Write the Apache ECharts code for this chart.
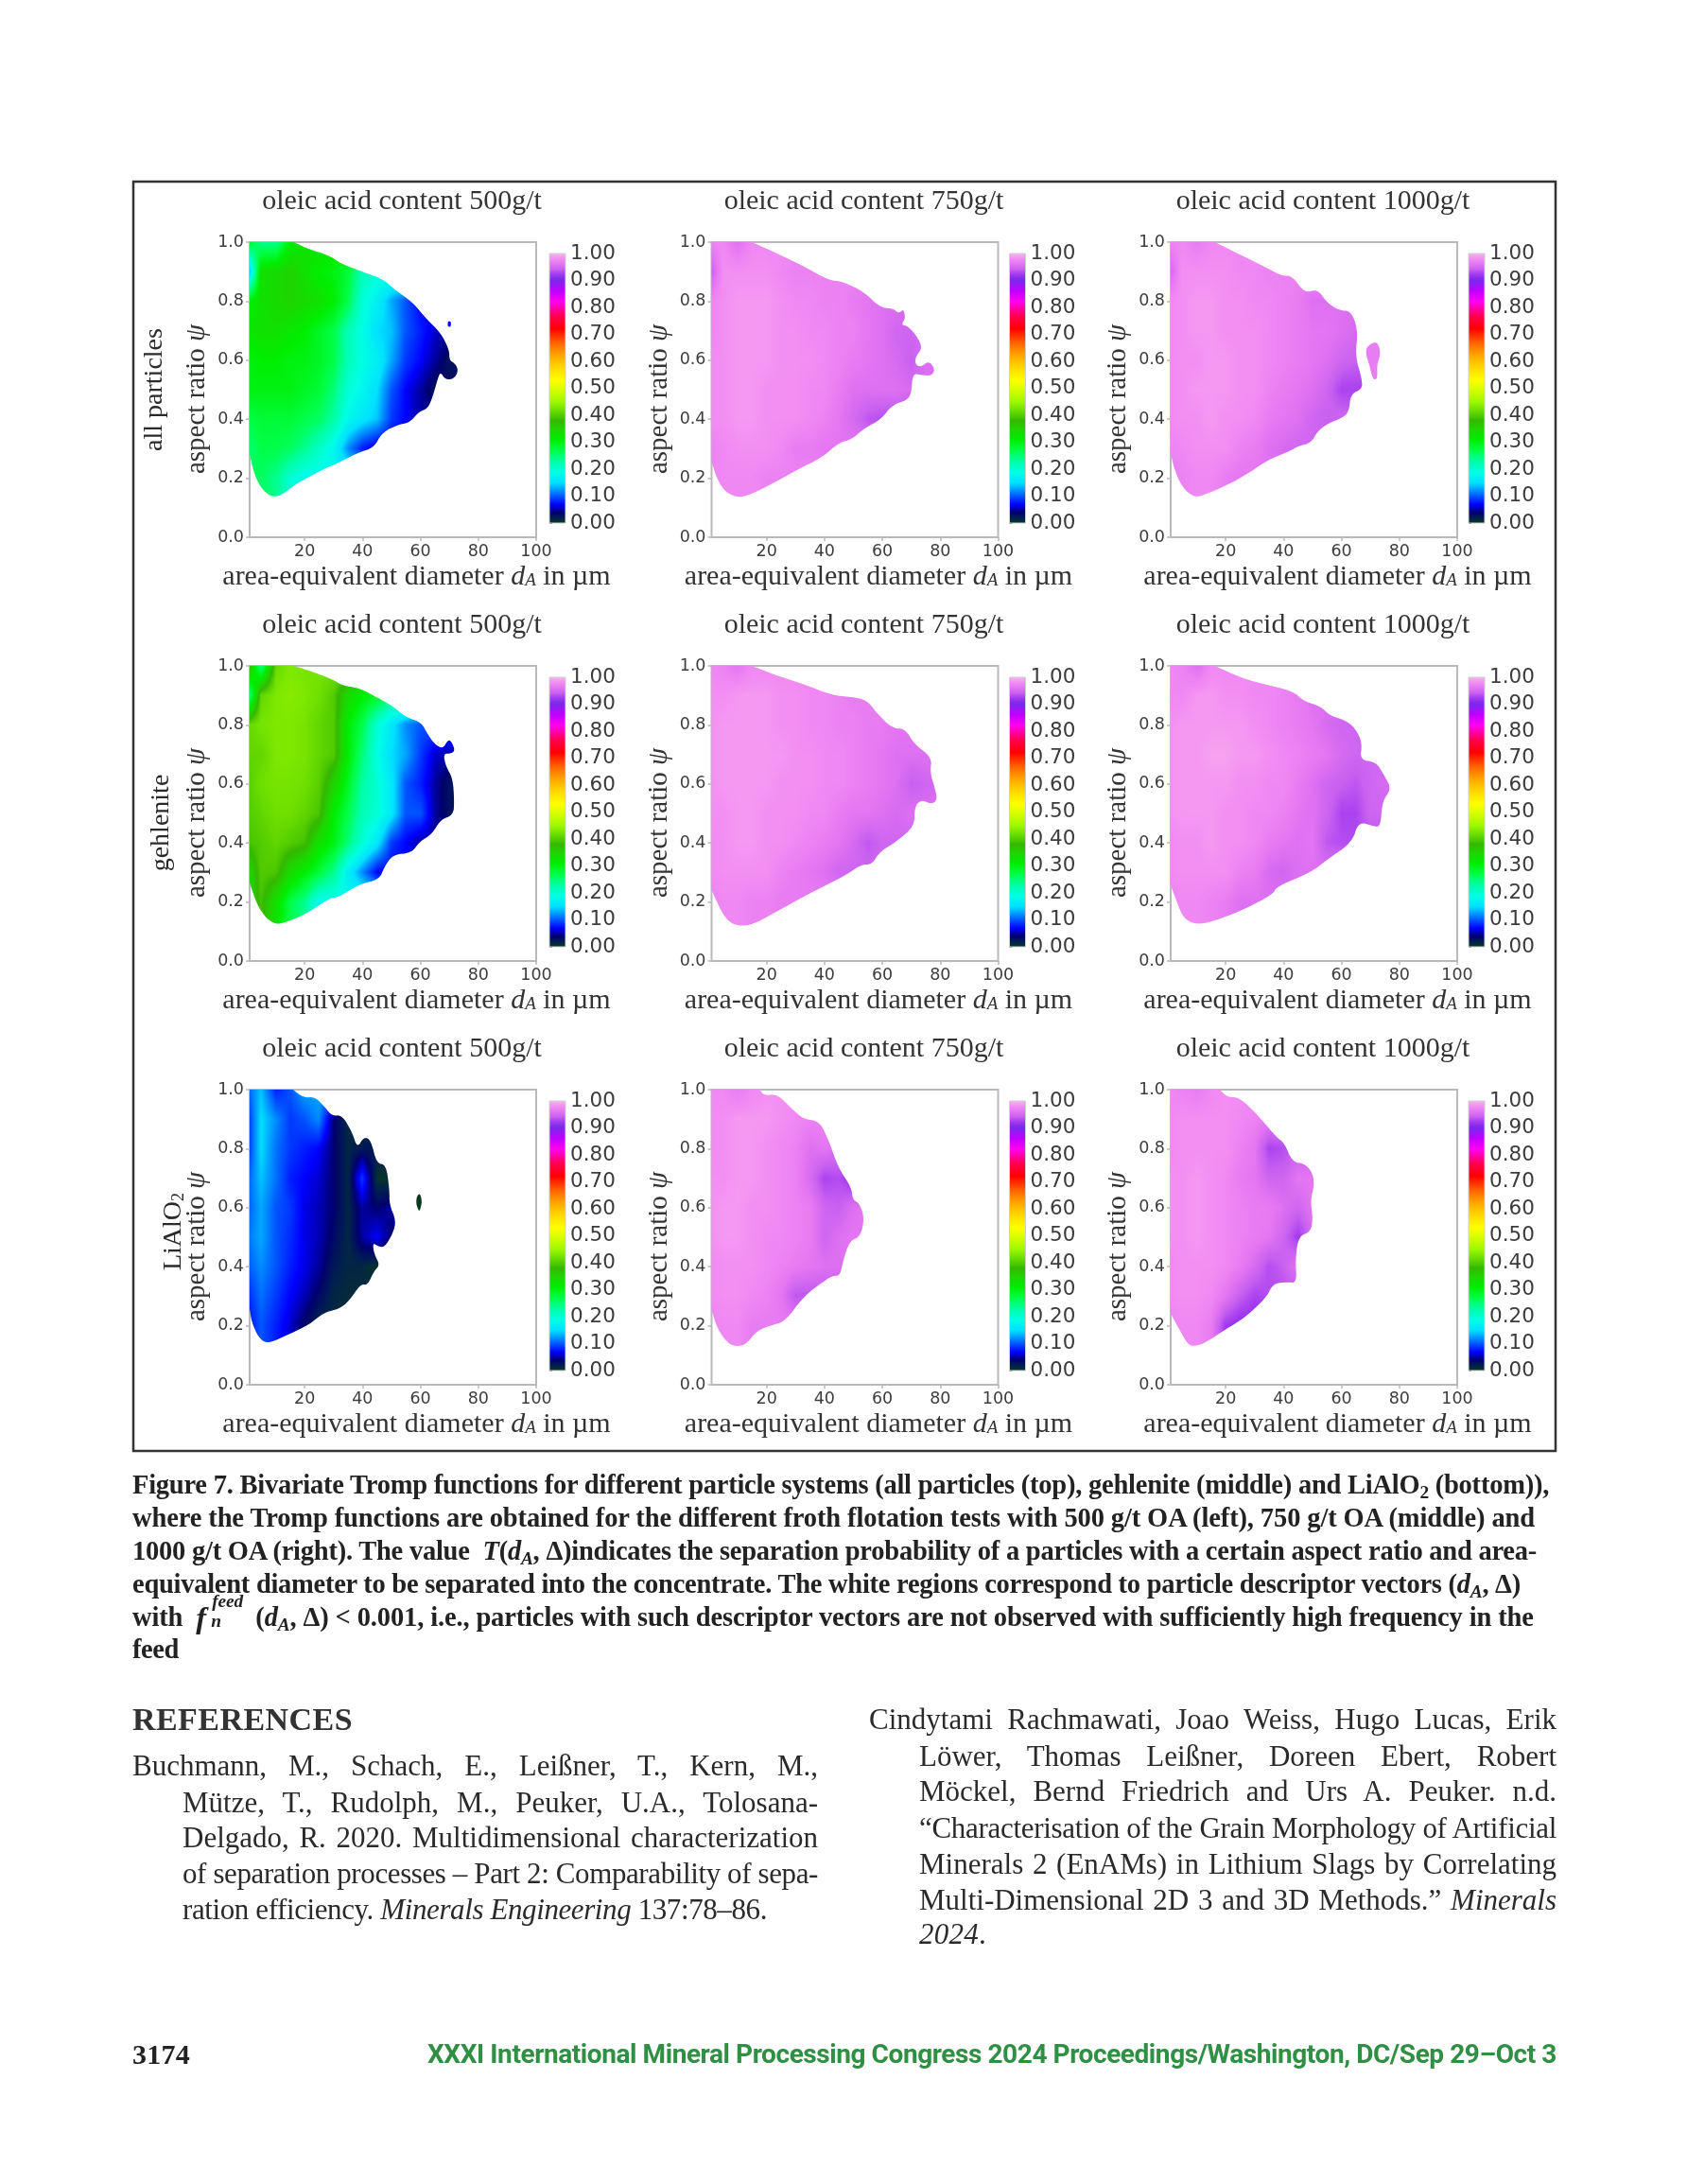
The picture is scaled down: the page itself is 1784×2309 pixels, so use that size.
<!DOCTYPE html>
<html><head><meta charset="utf-8">
<script src="https://cdn.jsdelivr.net/npm/echarts@6/dist/echarts.min.js"></script>
<style>
html,body{margin:0;padding:0;background:#fff}
#chart{position:absolute;left:0;top:0;width:1784px;height:2309px}
.ln{position:absolute;white-space:nowrap;color:#222;z-index:5}
.ln span.t{display:inline-block}
.cap{font:bold 28.5px "Liberation Serif",serif}
.ref{font:31px "Liberation Serif",serif;color:#2a2a2a}
.hd{font:bold 34px "Liberation Serif",serif;color:#333}
.pg{font:bold 30px "Liberation Serif",serif}
.ft{font:bold 28px Roboto,sans-serif;color:#2f8f42}
sub{font-size:.68em;line-height:0;vertical-align:-.28em}
.stack{display:inline-block;position:relative;width:56px;height:1em;vertical-align:baseline;font-style:italic}
.stack b{position:absolute;left:0;top:.6em;font-size:1.14em;line-height:0}
.stack u{text-decoration:none;position:absolute;left:17px;top:.14em;font-size:.68em;line-height:0}
.stack s{text-decoration:none;position:absolute;left:16px;top:1.2em;font-size:.68em;line-height:0}
</style></head><body>
<div id="chart"></div>
<script>
// ---- ticks and labels
const xTicks = [20, 40, 60, 80, 100];
const rowLabels = ['all particles', 'gehlenite', 'LiAlO2'];
const oleicDoses = [500, 750, 1000];

// ---- colour bar: value, colour
const cmapValues = [0, .02, .04, .07, .11, .15, .19, .23, .27, .31, .35, .38, .42, .45, .50, .53, .58, .62, .67, .72, .77, .82, .86, .90, .92, .94, .96, .98, .99, 1];
const cmapColors = ['#0a3a1e', '#00204e', '#00006e', '#0000ff', '#0070ff', '#00e0ff', '#00ffe4', '#00ffa4', '#00ff48', '#00ee00', '#1fd400', '#34b800', '#6fe000', '#9cf800', '#dcff00', '#ffff00', '#ffd400', '#ffa800', '#ff6000', '#ff0000', '#ff0058', '#ff00f0', '#c000ff', '#7a28ea', '#a038f0', '#c860f0', '#e476f2', '#f38ef3', '#f5a2f0', '#f6b8ec'];

// ---- read grid: rows at y = 1.0, 0.9 ... 0.2; columns at x = 0, 5, 10 ...
const gridY = [1, .9, .8, .7, .6, .5, .4, .3, .2];
const gridStepX = 5;

const tromp_all_500 = [
 [.30,.24,.24,.31,.33],
 [.09,.33,.34,.35,.33,.31,.30,.28,.22,.20],
 [.30,.33,.34,.35,.34,.33,.31,.27,.20,.17,.13,.10,.07],
 [.32,.33,.33,.32,.31,.29,.27,.22,.19,.15,.14,.10,.08,.06,.05],
 [.30,.31,.31,.30,.30,.29,.27,.22,.19,.17,.13,.09,.07,.05,.03,.03],
 [.30,.30,.30,.30,.29,.28,.25,.20,.18,.15,.10,.07,.05,.03],
 [.27,.28,.28,.28,.27,.26,.23,.18,.16,.14,.09,.07,.05],
 [.25,.27,.27,.26,.24,.21,.18,.12,.08,.06],
 [.26,.26,.24,.20,.18]];
const tromp_all_750 = [
 [.97,.975,.955,.975],
 [.93,.98,.98,.98,.98,.975,.97,.97,.97],
 [.97,.98,.985,.985,.985,.98,.975,.975,.97,.97,.965,.96,.955],
 [.97,.98,.985,.985,.985,.98,.98,.975,.975,.97,.97,.96,.955,.945,.945],
 [.975,.98,.985,.985,.985,.98,.98,.98,.975,.97,.965,.96,.955,.95,.94,.955],
 [.975,.98,.985,.985,.98,.98,.98,.975,.975,.965,.955,.955,.955,.955,.95],
 [.975,.98,.985,.985,.98,.98,.98,.975,.97,.96,.95,.935,.93],
 [.97,.975,.98,.98,.98,.975,.965,.965,.96],
 [.97,.975,.975,.975,.97]];
const tromp_all_1000 = [
 [.97,.975,.965,.975],
 [.94,.98,.98,.98,.98,.975,.975,.97,.97],
 [.975,.98,.985,.985,.98,.98,.975,.975,.97,.965,.955,.955,.955],
 [.975,.98,.985,.985,.98,.98,.98,.975,.97,.965,.96,.96,.955,.95],
 [.975,.98,.98,.985,.985,.98,.98,.975,.97,.965,.96,.955,.945,.94],
 [.975,.98,.985,.985,.985,.98,.98,.97,.965,.96,.955,.945,.925,.925],
 [.975,.98,.98,.985,.98,.98,.975,.965,.96,.955,.945,.94,.945],
 [.97,.975,.98,.98,.98,.97,.965,.955,.95,.945],
 [.965,.97,.975,.975,.965,.96]];
const tromp_geh_500 = [
 [.41,.24,.415,.43,.425],
 [.20,.41,.43,.435,.43,.42,.40,.34,.31,.29,.25],
 [.41,.425,.43,.43,.425,.41,.40,.31,.27,.20,.16,.12,.10],
 [.41,.41,.43,.43,.425,.41,.40,.31,.25,.19,.15,.13,.09,.06,.05,.05],
 [.40,.42,.425,.425,.42,.405,.35,.29,.23,.20,.16,.10,.08,.05,.03,.02],
 [.40,.41,.42,.42,.41,.395,.31,.27,.22,.20,.16,.10,.10,.05,.03],
 [.39,.40,.41,.40,.39,.33,.30,.25,.20,.16,.09,.07,.05],
 [.33,.40,.395,.34,.31,.28,.24,.17,.12,.07],
 [.33,.39,.33,.27,.24,.18]];
const tromp_geh_750 = [
 [.975,.97,.96,.975],
 [.98,.98,.985,.985,.985,.98,.98,.975,.975,.97,.965,.965],
 [.98,.985,.985,.985,.985,.98,.98,.975,.975,.97,.97,.965,.965,.96],
 [.98,.985,.985,.985,.985,.985,.98,.98,.975,.975,.97,.965,.96,.955,.955,.955],
 [.98,.985,.985,.985,.985,.98,.98,.98,.975,.975,.97,.965,.96,.955,.94,.945,.95],
 [.98,.98,.985,.985,.98,.98,.98,.975,.975,.965,.96,.96,.955,.95,.955],
 [.975,.98,.985,.985,.98,.98,.975,.97,.965,.96,.95,.935,.945],
 [.975,.98,.98,.98,.98,.97,.965,.96,.955,.945],
 [.97,.975,.975,.97,.97,.965]];
const tromp_geh_1000 = [
 [.975,.97,.955,.975],
 [.975,.975,.985,.985,.98,.98,.975,.975,.97,.965,.955],
 [.98,.985,.985,.985,.985,.985,.98,.975,.97,.965,.96,.95,.945,.945],
 [.98,.985,.985,.99,.99,.985,.985,.98,.975,.97,.965,.96,.95,.945],
 [.98,.985,.985,.985,.985,.98,.98,.975,.975,.965,.955,.945,.94,.935,.945,.95],
 [.98,.985,.985,.985,.98,.98,.975,.975,.97,.96,.955,.945,.925,.925,.945],
 [.975,.98,.98,.985,.98,.98,.975,.965,.96,.955,.96,.935,.93],
 [.975,.98,.98,.98,.98,.97,.965,.95,.945,.955],
 [.97,.975,.975,.97,.965,.955]];
const tromp_li_500 = [
 [.10,.14,.08,.10,.13],
 [.08,.15,.12,.09,.10,.12,.04,.015],
 [.08,.15,.11,.09,.08,.07,.04,.015,.025],
 [.10,.14,.11,.08,.07,.06,.04,.015,.09,.005],
 [.10,.13,.10,.09,.065,.055,.04,.015,.05,.04,.05],
 [.11,.13,.10,.085,.065,.055,.035,.015,.05,.07,.04],
 [.10,.12,.10,.08,.065,.05,.025,.015,.015,.005],
 [.08,.11,.09,.07,.055,.035,.015,.012],
 [.07,.10,.08,.06,.035,.015]];
const tromp_li_750 = [
 [.975,.975,.965,.975,.98],
 [.975,.98,.985,.985,.985,.98,.975,.97],
 [.975,.98,.985,.985,.98,.975,.97,.955,.96,.95],
 [.98,.98,.985,.985,.98,.975,.97,.95,.925,.93,.915],
 [.98,.985,.985,.98,.98,.975,.97,.965,.945,.94,.955,.96],
 [.98,.985,.985,.98,.975,.975,.97,.965,.945,.955,.96],
 [.975,.98,.98,.98,.975,.97,.965,.96,.955,.955],
 [.975,.98,.98,.975,.97,.96,.935],
 [.97,.975,.975,.965,.965]];
const tromp_li_1000 = [
 [.975,.97,.965,.975,.98],
 [.975,.98,.98,.98,.98,.975,.97,.965],
 [.975,.98,.98,.98,.98,.97,.96,.925,.93,.94],
 [.98,.98,.985,.98,.975,.965,.96,.945,.945,.96,.96],
 [.98,.98,.985,.98,.975,.97,.965,.965,.955,.945,.96],
 [.98,.98,.985,.98,.975,.97,.965,.96,.945,.92,.95],
 [.975,.98,.98,.98,.975,.965,.95,.93,.94,.96],
 [.975,.98,.98,.975,.96,.94,.925,.93],
 [.97,.975,.975,.965,.92,.91]];

// ---- edge of the observed region, [dA, psi]
const edge_all_500 = [[1,1],[16.3,1],[21.5,.976],[28.5,.955],[33,.925],[40,.90],[47,.875],[51,.84],[57.5,.795],[62,.74],[67,.693],[70,.634],[70,.60],[71.8,.59],[73,.57],[72.5,.55],[71,.535],[68.5,.535],[67,.56],[66,.538],[64.2,.474],[62.5,.436],[59.6,.426],[56.2,.388],[52.7,.383],[46.8,.356],[43.9,.303],[38.6,.287],[31,.249],[27,.233],[17.7,.185],[11.9,.142],[9,.137],[6.2,.153],[3.9,.185],[2.2,.228],[1,.281]];
const edge_all_750 = [[1,1],[14.9,1],[24.1,.96],[32.9,.918],[41.6,.87],[46,.868],[53.6,.832],[59.1,.779],[64,.774],[65.6,.758],[67.3,.774],[68,.742],[66.5,.72],[68.9,.715],[72.2,.678],[73.8,.64],[71.6,.614],[71.3,.587],[73.3,.576],[76,.598],[78.2,.571],[77.1,.547],[73.3,.55],[70.5,.555],[70,.486],[68.4,.464],[63.4,.448],[59.6,.4],[53.6,.368],[49.3,.331],[44.9,.32],[39.4,.272],[30.7,.229],[20.9,.176],[13.2,.139],[9.4,.136],[5.6,.155],[2.9,.197],[1,.256]];
const edge_all_1000 = [[1,1],[16.3,1],[25.5,.955],[33.2,.918],[39.2,.886],[43,.886],[47.3,.827],[51.7,.841],[55,.795],[59.3,.768],[63.2,.768],[65.7,.704],[64.8,.614],[67,.539],[67.2,.502],[63.2,.486],[62.6,.422],[59.3,.4],[55,.384],[51.7,.358],[49.5,.32],[45.2,.309],[41.3,.288],[34.3,.261],[26.6,.208],[17.9,.165],[11.4,.139],[8.6,.139],[5.4,.165],[2.6,.219],[1,.283]];
const edge_geh_500 = [[1,1],[16.4,1],[22.7,.98],[29.7,.954],[33.1,.933],[38.9,.925],[44.7,.895],[50.5,.863],[55,.826],[60.2,.81],[62.6,.767],[64.9,.735],[67.7,.719],[69.5,.748],[70.6,.746],[72,.714],[70.6,.703],[67.9,.703],[68.8,.66],[71.2,.618],[71.7,.543],[71.4,.495],[67,.479],[64,.43],[59.6,.404],[57,.366],[50.5,.361],[47.5,.318],[45.8,.276],[38.9,.26],[31.9,.217],[28.4,.212],[20.3,.158],[13.4,.131],[9.9,.124],[6.5,.147],[3.6,.19],[1,.265]];
const edge_geh_750 = [[1,1],[14.9,1],[24.1,.965],[32.9,.938],[42.7,.9],[49.3,.895],[54.7,.884],[58,.841],[63.4,.788],[67.8,.788],[71.1,.734],[77.1,.691],[76.5,.638],[78.2,.584],[79,.547],[77.1,.531],[73.3,.547],[71.1,.52],[71.1,.456],[64.5,.402],[59.1,.37],[56.4,.327],[52.6,.327],[47.1,.289],[36.2,.236],[25.2,.177],[15.4,.123],[10,.118],[6.1,.139],[2.9,.198],[1,.241]];
const edge_geh_1000 = [[1,1],[16.3,1],[25.5,.959],[33.2,.938],[43,.916],[47.3,.879],[52.8,.863],[56.1,.831],[61.5,.815],[64.8,.788],[67.2,.74],[66.4,.681],[71.9,.675],[74.6,.632],[77.3,.584],[74.1,.541],[73.5,.456],[71.3,.456],[65.9,.473],[63.7,.402],[55,.343],[49.5,.3],[37.5,.252],[36.4,.226],[25.5,.171],[15.7,.134],[9.7,.123],[5.4,.145],[3.2,.198],[1,.257]];
const edge_li_500 = [[1,1],[16,1],[19.5,.973],[23.6,.975],[27,.941],[29.4,.911],[32.9,.914],[36.4,.856],[38.2,.802],[40.5,.84],[42.9,.829],[44.9,.749],[48.1,.747],[49.3,.663],[49.3,.61],[51.6,.556],[50.5,.513],[47.6,.465],[45.2,.47],[43.5,.481],[44,.444],[46,.406],[44,.385],[41.7,.337],[39.4,.342],[35.3,.283],[31.9,.257],[27.2,.246],[23.7,.222],[21.4,.203],[15.6,.176],[8.6,.144],[5.8,.144],[3.5,.171],[1.7,.214],[1,.257]];
const edge_li_750 = [[1,1],[17.6,1],[19.2,.98],[23.6,.985],[28.5,.937],[32.9,.899],[38.3,.894],[41.6,.824],[44.9,.733],[49.3,.669],[49.8,.626],[52,.616],[53.8,.567],[52.5,.503],[48.7,.487],[46.5,.423],[45.4,.369],[42.7,.369],[39.4,.348],[32.9,.3],[26.3,.214],[22,.203],[16.5,.182],[13.2,.139],[9.4,.128],[6.1,.145],[2.9,.193],[1,.252]];
const edge_li_1000 = [[1,1],[17.9,1],[20.6,.974],[24.4,.974],[28.8,.937],[33.2,.889],[37.5,.84],[40.3,.819],[43,.755],[47.3,.749],[50.1,.717],[50.6,.675],[49.3,.626],[50.1,.567],[49.5,.519],[45.2,.503],[44.1,.428],[44.6,.345],[41.3,.348],[36.4,.343],[34.3,.3],[29.9,.257],[25.5,.22],[19,.182],[13.5,.145],[9.7,.131],[7,.134],[3.7,.193],[1,.241]];

// ---- detached small islands: value, then edge
const island_all_500 = [.07, [[69.6,.73],[70.4,.73],[70.4,.715],[69.6,.715]]];
const island_all_1000 = [.965, [[68.6,.635],[70.8,.658],[72.4,.656],[73.3,.624],[72.4,.582],[72.2,.539],[71.1,.537],[69.7,.582]]];
const island_li_500 = [.0, [[58.6,.62],[59,.64],[59.8,.645],[60.4,.625],[60.2,.605],[59.6,.59],[59,.6]]];

const trompGrids = [[tromp_all_500, tromp_all_750, tromp_all_1000], [tromp_geh_500, tromp_geh_750, tromp_geh_1000], [tromp_li_500, tromp_li_750, tromp_li_1000]];
const edges = [[edge_all_500, edge_all_750, edge_all_1000], [edge_geh_500, edge_geh_750, edge_geh_1000], [edge_li_500, edge_li_750, edge_li_1000]];
const islands = [[island_all_500, null, island_all_1000], [null, null, null], [island_li_500, null, null]];

// ---- layout
const plotLeft = [264, 752.5, 1238], plotTop = [256, 704, 1152];
const plotW = 303, plotH = 312, barW = 17, barH = 285;
const barOff = [317, 315, 315];
const SANS = '"DejaVu Sans",sans-serif', SERIF = '"Liberation Serif",serif';
const TICK = '#3c3c3c', AXIS = '#b9b9b9';

// colour look-up
const hex = h => [1, 3, 5].map(i => parseInt(h.substr(i, 2), 16));
const cmapRGB = cmapColors.map(hex);
const LUT_N = 2000;
const lut = new Uint8ClampedArray((LUT_N + 1) * 3);
(function () {
  let k = 0;
  for (let i = 0; i <= LUT_N; i++) {
    const v = i / LUT_N;
    while (k < cmapValues.length - 2 && v > cmapValues[k + 1]) k++;
    const t = (v - cmapValues[k]) / (cmapValues[k + 1] - cmapValues[k]);
    for (let c = 0; c < 3; c++) lut[i * 3 + c] = cmapRGB[k][c] + (cmapRGB[k + 1][c] - cmapRGB[k][c]) * t;
  }
})();
const colorOf = v => { const i = Math.round(Math.min(1, Math.max(0, v)) * LUT_N) * 3; return `rgb(${lut[i]},${lut[i + 1]},${lut[i + 2]})`; };

function cellsOf(grid) {
  const look = (r, c) => { const row = grid[Math.min(r, grid.length - 1)]; return row[Math.min(c, row.length - 1)]; };
  const cols = Math.max(...grid.map(r => r.length));
  const out = [];
  for (let r = 0; r < gridY.length; r++) for (let c = 0; c < cols; c++) {
    const y0 = gridY[r], y1 = r + 1 < gridY.length ? gridY[r + 1] : y0 - .1;
    out.push([c * gridStepX, y0, (c + 1) * gridStepX, y1, look(r, c), look(r, c + 1), look(r + 1, c), look(r + 1, c + 1)]);
  }
  return out;
}

function cellImage(w, h, a, b, cc, d) {
  const cv = document.createElement('canvas'); cv.width = w; cv.height = h;
  const g = cv.getContext('2d'), im = g.createImageData(w, h), px = im.data;
  for (let j = 0; j < h; j++) {
    const t = (j + .5) / h;
    for (let i = 0; i < w; i++) {
      const s = (i + .5) / w;
      const v = a * (1 - s) * (1 - t) + b * s * (1 - t) + cc * (1 - s) * t + d * s * t;
      const q = Math.round(Math.min(1, Math.max(0, v)) * LUT_N) * 3, o = (j * w + i) * 4;
      px[o] = lut[q]; px[o + 1] = lut[q + 1]; px[o + 2] = lut[q + 2]; px[o + 3] = 255;
    }
  }
  g.putImageData(im, 0, 0);
  return cv;
}

// rounds the traced edge in screen space; the corner and both axis ends stay put
function roundEdge(points) {
  let open = points.slice(1);
  for (let it = 0; it < 2; it++) {
    const next = [open[0]];
    for (let i = 0; i < open.length - 1; i++) {
      const p = open[i], q = open[i + 1];
      next.push([.75 * p[0] + .25 * q[0], .75 * p[1] + .25 * q[1]], [.25 * p[0] + .75 * q[0], .25 * p[1] + .75 * q[1]]);
    }
    next.push(open[open.length - 1]);
    open = next;
  }
  return [points[0]].concat(open);
}

const grids = [], xAxes = [], yAxes = [], series = [], titles = [], graphics = [];
graphics.push({ type: 'rect', shape: { x: 141, y: 192, width: 1504, height: 1342 }, style: { fill: 'none', stroke: '#333', lineWidth: 2.5 }, z: 1 });

rowLabels.forEach((label, r) => {
  oleicDoses.forEach((dose, c) => {
    const gi = grids.length;
    const L = plotLeft[c], T = plotTop[r];
    grids.push({ left: L, top: T, width: plotW, height: plotH, show: true, borderColor: AXIS, borderWidth: 2, backgroundColor: '#fff', z: 3 });
    xAxes.push({
      gridIndex: gi, type: 'value', min: 1, max: 100, splitLine: { show: false },
      axisLine: { show: false },
      axisTick: { show: true, length: 4, customValues: xTicks, lineStyle: { color: AXIS, width: 1.5 } },
      axisLabel: { customValues: xTicks, color: TICK, fontFamily: SANS, fontSize: 17.5, margin: 6, hideOverlap: false, showMinLabel: true, showMaxLabel: true },
      name: 'area-equivalent diameter {i|d}{s|A} in µm', nameLocation: 'middle', nameGap: 27,
      nameTextStyle: { color: '#333', fontFamily: SERIF, fontSize: 30, padding: [0, 0, 0, 50], rich: {
        i: { fontStyle: 'italic', fontFamily: SERIF, fontSize: 30, color: '#333' },
        s: { fontStyle: 'italic', fontFamily: SERIF, fontSize: 19, color: '#333', padding: [8, 0, 0, 0] } } }
    });
    yAxes.push({
      gridIndex: gi, type: 'value', min: 0, max: 1, interval: .2, splitLine: { show: false },
      axisLine: { show: false }, axisTick: { show: true, length: 4, lineStyle: { color: AXIS, width: 1.5 } },
      axisLabel: { color: TICK, fontFamily: SANS, fontSize: 17.5, margin: 6, padding: [6, 0, 0, 0], formatter: v => v.toFixed(1) },
      name: 'aspect ratio {i|ψ}', nameLocation: 'middle', nameRotate: 90, nameGap: 41,
      nameTextStyle: { color: '#333', fontFamily: SERIF, fontSize: 29, padding: [0, 20, 0, 0], rich: { i: { fontStyle: 'italic', fontFamily: SERIF, fontSize: 29, color: '#333' } } }
    });
    titles.push({ text: 'oleic acid content ' + dose + 'g/t', left: L + 161, top: T - 58, textAlign: 'center', padding: 0,
      textStyle: { fontFamily: SERIF, fontWeight: 'normal', fontSize: 30, color: '#333' } });

    let pts = null;
    const edge = edges[r][c];
    series.push({
      name: label + ' ' + dose, type: 'custom', coordinateSystem: 'cartesian2d', xAxisIndex: gi, yAxisIndex: gi, clip: false, silent: true, z: 4,
      animation: false, data: cellsOf(trompGrids[r][c]),
      dimensions: ['x0', 'y0', 'x1', 'y1', 'a', 'b', 'c', 'd'], encode: { x: 0, y: 1 },
      renderItem(params, api) {
        if (!pts) pts = roundEdge(edge.map(p => api.coord(p)));
        const P = api.coord([api.value(0), api.value(1)]), Q = api.coord([api.value(2), api.value(3)]);
        const x = Math.round(P[0]), y = Math.round(P[1]), w = Math.round(Q[0]) - x, h = Math.round(Q[1]) - y;
        if (w <= 0 || h <= 0) return;
        return { type: 'image', style: { image: cellImage(w, h, api.value(4), api.value(5), api.value(6), api.value(7)), x, y, width: w, height: h },
          clipPath: { type: 'polygon', shape: { points: pts } } };
      }
    });
    const isl = islands[r][c];
    if (isl) series.push({
      type: 'custom', coordinateSystem: 'cartesian2d', xAxisIndex: gi, yAxisIndex: gi, silent: true, z: 4, animation: false, clip: false,
      data: isl[1], encode: { x: 0, y: 1 },
      renderItem(params, api) {
        if (params.dataIndex) return;
        return { type: 'polygon', shape: { points: isl[1].map(p => api.coord(p)), smooth: .4 }, style: { fill: colorOf(isl[0]) } };
      }
    });

    // colour bar
    const bi = grids.length;
    grids.push({ left: L + barOff[c], top: T + 12, width: barW, height: barH, show: false });
    xAxes.push({ gridIndex: bi, type: 'value', min: 0, max: 1, show: false });
    yAxes.push({
      gridIndex: bi, type: 'value', min: 0, max: 1, interval: .1, position: 'right', splitLine: { show: false },
      axisLine: { show: false }, axisTick: { show: true, length: 3, lineStyle: { color: '#888' } },
      axisLabel: { color: TICK, fontFamily: SANS, fontSize: 21.5, margin: 5, padding: [8, 0, 0, 0], formatter: v => v.toFixed(2) }
    });
    series.push({
      type: 'custom', coordinateSystem: 'cartesian2d', xAxisIndex: bi, yAxisIndex: bi, silent: true, animation: false, data: [[0, 0]],
      renderItem(params, api) {
        const A = api.coord([0, 1]), B = api.coord([1, 0]);
        return { type: 'rect', shape: { x: A[0], y: A[1], width: B[0] - A[0], height: B[1] - A[1] },
          style: { stroke: '#cfcfcf', lineWidth: 1, fill: new echarts.graphic.LinearGradient(0, 1, 0, 0, cmapValues.map((v, i) => ({ offset: v, color: cmapColors[i] }))) } };
      }
    });
  });
});

// row labels
const rowLabelPos = [[164, 412], [171, 870], [184, 1302]];
rowLabels.forEach((t, r) => {
  const rich = t === 'LiAlO2';
  graphics.push({ type: 'text', x: rowLabelPos[r][0], y: rowLabelPos[r][1], rotation: Math.PI / 2, z: 6,
    style: { text: rich ? 'LiAlO{s|2}' : t, fontFamily: SERIF, fontSize: 28, fill: '#2a2a2a', align: 'center', verticalAlign: 'middle',
      rich: { s: { fontFamily: SERIF, fontSize: 18, fill: '#2a2a2a', padding: [10, 0, 0, 0] } } } });
});

const chart = echarts.init(document.getElementById('chart'), null, { renderer: 'canvas', width: 1784, height: 2309 });
chart.setOption({ backgroundColor: '#fff', animation: false, title: titles, grid: grids, xAxis: xAxes, yAxis: yAxes, series, graphic: graphics });

// ---- page text
const DA = '<i>d<sub>A</sub></i>';
const pageLines = [
 ['cap', 140, 1638, 1570, 'Figure 7. Bivariate Tromp functions for different particle systems (all particles (top), gehlenite (middle) and LiAlO<sub>2</sub> (bottom)),'],
 ['cap', 140, 1623, 1605, 'where the Tromp functions are obtained for the different froth flotation tests with 500 g/t OA (left), 750 g/t OA (middle) and'],
 ['cap', 140, 1625, 1640, '1000 g/t OA (right). The value &nbsp;<i>T</i>(' + DA + ', Δ)indicates the separation probability of a particles with a certain aspect ratio and area-'],
 ['cap', 140, 1608, 1675, 'equivalent diameter to be separated into the concentrate. The white regions correspond to particle descriptor vectors (' + DA + ', Δ)'],
 ['cap', 140, 1621, 1710, 'with &nbsp;<span class="stack"><b>f</b><u>feed</u><s>n</s></span> (' + DA + ', Δ) &lt; 0.001, i.e., particles with such descriptor vectors are not observed with sufficiently high frequency in the'],
 ['cap', 140, 189, 1744, 'feed'],
 ['hd', 140, 373, 1818, 'REFERENCES'],
 ['ref', 140, 865, 1867, 'Buchmann, M., Schach, E., Leißner, T., Kern, M.,'],
 ['ref', 193, 865, 1906, 'Mütze, T., Rudolph, M., Peuker, U.A., Tolosana-'],
 ['ref', 193, 865, 1943, 'Delgado, R. 2020. Multidimensional characterization'],
 ['ref', 193, 865, 1981, 'of separation processes – Part 2: Comparability of sepa-'],
 ['ref', 193, 811, 2019, 'ration efficiency. <i>Minerals Engineering</i> 137:78–86.'],
 ['ref', 919, 1646, 1818, 'Cindytami Rachmawati, Joao Weiss, Hugo Lucas, Erik'],
 ['ref', 972, 1646, 1857, 'Löwer, Thomas Leißner, Doreen Ebert, Robert'],
 ['ref', 972, 1646, 1894, 'Möckel, Bernd Friedrich and Urs A. Peuker. n.d.'],
 ['ref', 972, 1646, 1933, '“Characterisation of the Grain Morphology of Artificial'],
 ['ref', 972, 1646, 1971, 'Minerals 2 (EnAMs) in Lithium Slags by Correlating'],
 ['ref', 972, 1646, 2009, 'Multi-Dimensional 2D 3 and 3D Methods.” <i>Minerals</i>'],
 ['ref', 972, 1043, 2045, '<i>2024</i>.'],
 ['pg', 140, 201, 2172, '3174'],
 ['ft', 452, 1646, 2172, 'XXXI International Mineral Processing Congress 2024 Proceedings/Washington, DC/Sep 29–Oct 3']
];
pageLines.forEach(([cls, x0, x1, y, html]) => {
  const d = document.createElement('div');
  d.className = 'ln ' + cls;
  d.style.left = x0 + 'px'; d.style.top = (y - 20) + 'px'; d.style.lineHeight = '40px';
  const s = document.createElement('span'); s.className = 't'; s.innerHTML = html;
  d.appendChild(s); document.body.appendChild(d);
  const w = s.getBoundingClientRect().width, target = x1 - x0;
  const plain = s.textContent, spaces = (plain.match(/[ \u00a0]/g) || []).length;
  if (w > target || !spaces) s.style.letterSpacing = ((target - w) / plain.length).toFixed(3) + 'px';
  else s.style.wordSpacing = ((target - w) / spaces).toFixed(3) + 'px';
});
</script></body></html>
